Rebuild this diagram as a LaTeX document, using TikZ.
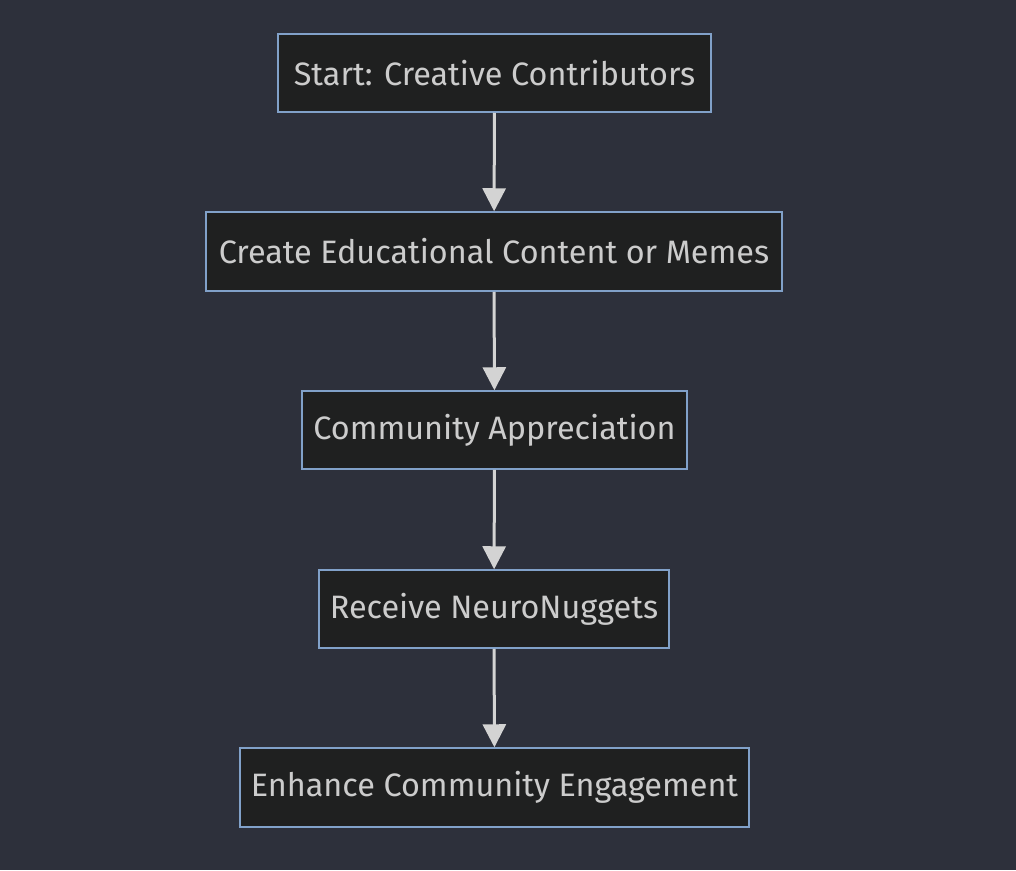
\documentclass[tikz,border=0pt]{standalone}
\usepackage{fontspec}
\setmainfont{Fira Sans}
\usetikzlibrary{arrows.meta}
\definecolor{bgc}{HTML}{2D303B}
\definecolor{nodefill}{HTML}{1F2020}
\definecolor{nodeborder}{HTML}{81A1C9}
\definecolor{txt}{HTML}{CCCCCC}
\definecolor{arr}{HTML}{D3D3D3}
\begin{document}
\begin{tikzpicture}[x=1pt,y=-1pt,
  box/.style={draw=nodeborder, fill=nodefill, line width=1.5pt, text=txt,
    inner sep=0pt, anchor=center, font=\fontsize{32.4}{38}\selectfont},
  flow/.style={draw=arr, line width=3pt, -{Triangle[length=23pt,width=23pt]}}]
\fill[bgc] (0,0) rectangle (1016,870);
\useasboundingbox (0,0) rectangle (1016,870);
\node[box, minimum width=433pt, minimum height=78pt] (n1) at (494.5,73) {Start: Creative Contributors};
\node[box, minimum width=576pt, minimum height=79pt] (n2) at (494,251.5) {Create Educational Content or Memes};
\node[box, minimum width=385pt, minimum height=78pt] (n3) at (494.5,430) {Community Appreciation};
\node[box, minimum width=350pt, minimum height=78pt] (n4) at (494,609) {Receive NeuroNuggets};
\node[box, minimum width=509pt, minimum height=79pt] (n5) at (494.5,787.5) {Enhance Community Engagement};
\draw[flow] (n1) -- (n2);
\draw[flow] (n2) -- (n3);
\draw[flow] (n3) -- (n4);
\draw[flow] (n4) -- (n5);
\end{tikzpicture}
\end{document}
